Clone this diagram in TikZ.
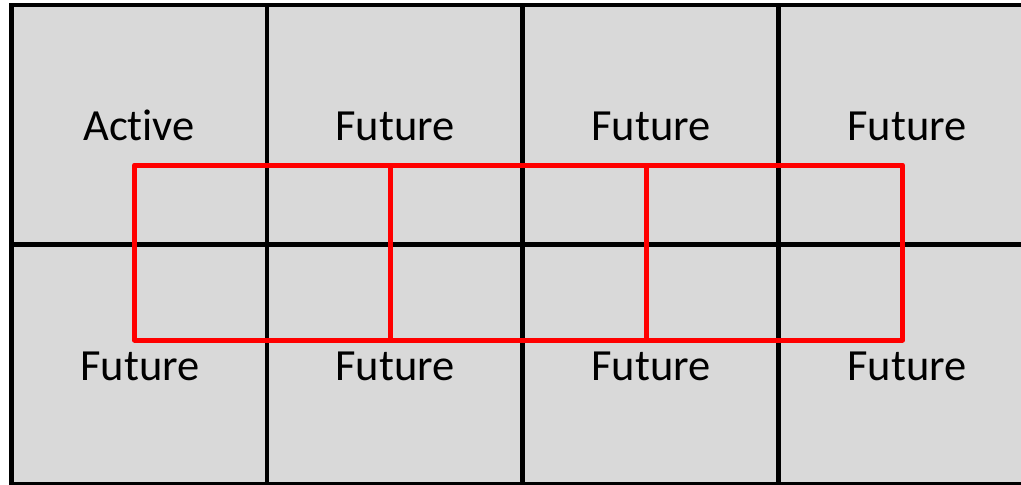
\documentclass[tikz,border=0pt]{standalone}
\usepackage{fontspec}
\setmainfont{Carlito}[Ligatures={NoCommon}]
\definecolor{cellgray}{RGB}{217,217,217}
\begin{document}
\begin{tikzpicture}[x=1pt,y=-1pt,
  gridline/.style={draw=black,line width=4.6pt},
  redbox/.style={draw=red,line width=5pt,line join=round},
  lbl/.style={anchor=base,inner sep=0pt,text=black,font=\fontsize{44.5}{50}\selectfont}]
\useasboundingbox (0,0) rectangle (1021,485);
\clip (0,0) rectangle (1021,485);
\fill[white] (0,0) rectangle (1021,485);
% grid
\fill[cellgray] (11.5,5) rectangle (1035.5,484);
\draw[gridline] (11.5,5) rectangle (1035.5,484);
\draw[gridline] (11.5,244.5) -- (1035.5,244.5);
\foreach \x in {267,522.5,778.5} \draw[gridline] (\x,5) -- (\x,484);
% labels
\node[lbl] (a1) at (139,140) {Act\kern0pt ive};
\node[lbl] (a2) at (395,140) {Future};
\node[lbl] (a3) at (651,140) {Future};
\node[lbl] (a4) at (907,140) {Future};
\node[lbl] (b1) at (140,380) {Future};
\node[lbl] (b2) at (395,380) {Future};
\node[lbl] (b3) at (651,380) {Future};
\node[lbl] (b4) at (907,380) {Future};
% red boxes
\draw[redbox] (134.5,165) rectangle (390.5,340);
\draw[redbox] (390.5,165) rectangle (646.5,340);
\draw[redbox] (646.5,165) rectangle (902.5,340);
\end{tikzpicture}
\end{document}
